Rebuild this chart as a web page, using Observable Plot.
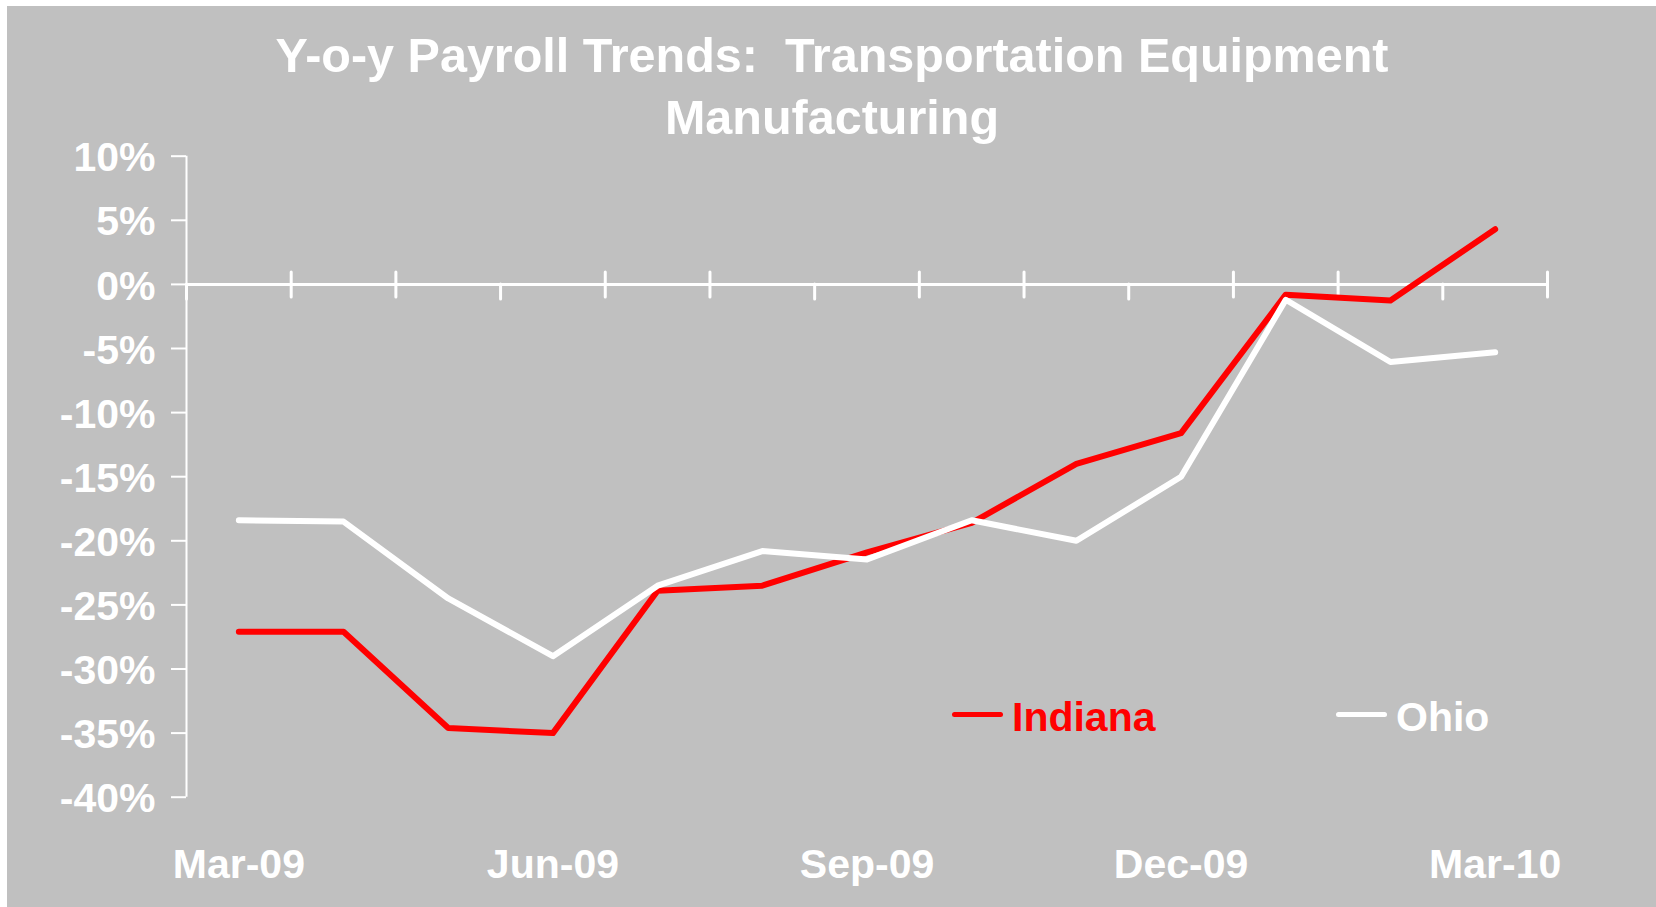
<!DOCTYPE html>
<html>
<head>
<meta charset="utf-8">
<script src="https://cdn.jsdelivr.net/npm/d3@7"></script>
<script src="https://cdn.jsdelivr.net/npm/@observablehq/plot@0.6"></script>
<style>
  html, body { margin: 0; padding: 0; background: #ffffff; }
  #wrap { position: relative; width: 1656px; height: 907px; overflow: hidden; font-family: Arial, "Liberation Sans", sans-serif; }
  #panel { position: absolute; left: 7px; top: 6px; right: 0; bottom: 0; background: #C0C0C0; }
  #title { position: absolute; left: 7px; top: 24px; width: 1650px; text-align: center; color: #ffffff;
           font-size: 48.5px; font-weight: bold; line-height: 62px; white-space: pre; }
  #chart { position: absolute; left: 0; top: 145px; }
  .sw { position: absolute; height: 5px; border-radius: 2.5px; }
  .lg { position: absolute; font-size: 41px; font-weight: bold; line-height: 41px; white-space: pre; }
</style>
</head>
<body>
<div id="wrap">
  <div id="panel"></div>
  <div id="title"></div>
  <div id="chart"></div>
  <div id="legend"></div>
</div>
<script>
// ---- data ----
const months = ["Mar-09","Apr-09","May-09","Jun-09","Jul-09","Aug-09","Sep-09","Oct-09","Nov-09","Dec-09","Jan-10","Feb-10","Mar-10"];
const indiana = [-27.1, -27.1, -34.6, -35.0, -23.9, -23.5, -20.9, -18.6, -14.0, -11.6, -0.8, -1.25, 4.3];
const ohio    = [-18.4, -18.5, -24.5, -29.0, -23.5, -20.8, -21.45, -18.4, -20.0, -15.0, -1.2, -6.05, -5.3];
const seriesNames = ["Indiana", "Ohio"];
const seriesColors = ["#FF0000", "#FFFFFF"];
const yTicks = [10, 5, 0, -5, -10, -15, -20, -25, -30, -35, -40];
const labeledMonths = ["Mar-09", "Jun-09", "Sep-09", "Dec-09", "Mar-10"];
const titleLines = ["Y-o-y Payroll Trends:  Transportation Equipment", "Manufacturing"];

document.getElementById("title").textContent = titleLines.join("\n");

const rows = (vals) => vals.map((v, i) => ({i, month: months[i], v}));
const indRows = rows(indiana);
const ohRows = rows(ohio);

// category boundaries (between-tick-mark positions)
const bounds = months.map((m, i) => i - 0.5).concat([months.length - 0.5]);
const downOnly = bounds.filter((b, k) => k % 3 === 0 && k < months.length);
const crossing = bounds.filter((b, k) => !(k % 3 === 0 && k < months.length));

const chart = Plot.plot({
  width: 1656,
  height: 762,
  marginLeft: 186,
  marginRight: 109,
  marginTop: 10.7,
  marginBottom: 110.3,
  style: {background: "transparent", color: "#ffffff", fontFamily: "Arial, 'Liberation Sans', sans-serif", overflow: "visible"},
  x: {type: "linear", domain: [-0.5, months.length - 0.5]},
  y: {type: "linear", domain: [-40, 10]},
  marks: [
    // y tick marks
    Plot.axisY({ticks: yTicks, tickFormat: () => "", tickSize: 15, strokeWidth: 2, label: null}),
    // y tick labels
    Plot.axisY({ticks: yTicks, tickFormat: d => `${d}%`, tickSize: 0, tickPadding: 31, fontSize: 41, fontWeight: "bold", dy: 2, label: null}),
    Plot.axisX({ticks: labeledMonths.map(m => months.indexOf(m)), tickFormat: i => months[i], tickSize: 0, tickPadding: 52, fontSize: 41, fontWeight: "bold", label: null}),
    Plot.ruleX([-0.5], {y1: -40, y2: 10, stroke: "#ffffff", strokeWidth: 2}),
    Plot.ruleY([0], {stroke: "#ffffff", strokeWidth: 3}),
    Plot.ruleX(crossing, {y1: 0, y2: 0, insetTop: -12, insetBottom: -13, stroke: "#ffffff", strokeWidth: 3, strokeLinecap: "round"}),
    Plot.ruleX(downOnly, {y1: 0, y2: 0, insetTop: 0, insetBottom: -15, stroke: "#ffffff", strokeWidth: 3, strokeLinecap: "round"}),
    Plot.line(indRows, {x: "i", y: "v", stroke: seriesColors[0], strokeWidth: 6, strokeLinecap: "round", strokeLinejoin: "round"}),
    Plot.line(ohRows, {x: "i", y: "v", stroke: seriesColors[1], strokeWidth: 6, strokeLinecap: "round", strokeLinejoin: "round"})
  ]
});
document.getElementById("chart").appendChild(chart);

// legend
const legend = document.getElementById("legend");
const legendPos = [{sw: 952, tx: 1012}, {sw: 1336, tx: 1396}];
seriesNames.forEach((name, k) => {
  const sw = document.createElement("div");
  sw.className = "sw";
  sw.style.left = legendPos[k].sw + "px";
  sw.style.top = "712px";
  sw.style.width = "51px";
  sw.style.background = seriesColors[k];
  legend.appendChild(sw);
  const tx = document.createElement("div");
  tx.className = "lg";
  tx.style.left = legendPos[k].tx + "px";
  tx.style.top = "697px";
  tx.style.color = seriesColors[k];
  tx.textContent = name;
  legend.appendChild(tx);
});
</script>
</body>
</html>
